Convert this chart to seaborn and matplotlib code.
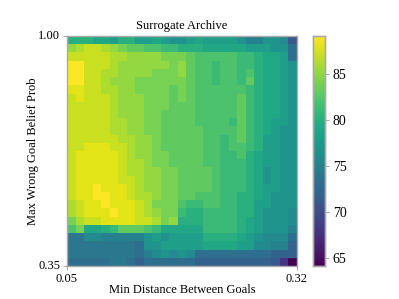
import matplotlib
matplotlib.use("Agg")
import seaborn as sns
import matplotlib.pyplot as plt

# archive values, top row first
rows = [
    [80, 80, 80, 79, 79, 78, 80, 80, 78, 78, 79, 78, 77, 77, 78, 79, 78, 78, 78, 78, 77, 75, 75, 77, 77, 76, 71],
    [85, 86, 87, 87, 86, 85, 84, 83, 83, 82, 82, 81, 81, 80, 80, 80, 79, 79, 79, 79, 79, 78, 78, 78, 77, 77, 73],
    [87, 87, 87, 87, 87, 86, 86, 85, 85, 85, 85, 84, 84, 84, 83, 82, 82, 82, 82, 82, 81, 81, 80, 79, 79, 78, 73],
    [89, 89, 87, 87, 87, 86, 85, 85, 85, 85, 85, 85, 84, 85, 83, 82, 82, 81, 82, 82, 81, 81, 80, 79, 79, 78, 77],
    [89, 89, 87, 87, 86, 86, 85, 85, 85, 85, 84, 84, 84, 85, 83, 82, 82, 81, 82, 82, 81, 82, 80, 79, 79, 78, 77],
    [89, 89, 87, 87, 86, 85, 85, 85, 84, 84, 84, 84, 84, 84, 83, 82, 82, 81, 82, 82, 81, 83, 80, 79, 79, 78, 77],
    [88, 88, 87, 87, 86, 86, 85, 85, 84, 84, 84, 84, 83, 84, 83, 82, 82, 82, 82, 82, 82, 81, 80, 79, 79, 78, 77],
    [87, 88, 87, 87, 87, 86, 85, 85, 85, 84, 84, 84, 83, 84, 83, 82, 82, 82, 82, 82, 83, 81, 80, 79, 79, 78, 77],
    [87, 87, 87, 87, 87, 86, 85, 85, 85, 84, 84, 84, 83, 83, 83, 82, 82, 82, 82, 82, 83, 81, 80, 79, 79, 78, 77],
    [87, 87, 87, 87, 87, 86, 85, 85, 85, 84, 84, 83, 83, 83, 83, 82, 82, 82, 82, 82, 83, 81, 80, 79, 79, 78, 77],
    [87, 87, 87, 87, 87, 86, 86, 85, 85, 84, 84, 83, 83, 83, 83, 82, 82, 82, 82, 81, 83, 81, 80, 79, 78, 78, 77],
    [87, 87, 87, 87, 87, 86, 86, 85, 85, 84, 84, 83, 83, 83, 83, 83, 82, 82, 82, 82, 83, 81, 80, 79, 78, 77, 77],
    [87, 87, 87, 87, 87, 87, 86, 86, 85, 85, 84, 83, 83, 83, 83, 83, 82, 82, 81, 82, 83, 81, 80, 78, 78, 77, 77],
    [87, 87, 88, 88, 88, 87, 87, 86, 85, 85, 84, 83, 83, 83, 83, 83, 82, 82, 81, 82, 82, 81, 80, 78, 78, 77, 77],
    [87, 88, 88, 88, 88, 88, 87, 86, 85, 85, 84, 84, 83, 83, 83, 83, 82, 82, 81, 81, 82, 80, 79, 78, 78, 77, 77],
    [87, 88, 88, 88, 88, 88, 87, 86, 86, 85, 84, 84, 83, 83, 83, 83, 82, 82, 81, 81, 81, 80, 79, 78, 78, 77, 77],
    [87, 88, 88, 88, 88, 88, 87, 86, 86, 85, 85, 84, 84, 83, 83, 83, 83, 82, 81, 81, 81, 80, 79, 77, 78, 77, 77],
    [87, 88, 88, 88, 88, 88, 87, 87, 86, 85, 85, 84, 84, 83, 83, 83, 83, 82, 81, 81, 81, 80, 79, 77, 78, 77, 77],
    [87, 88, 88, 89, 88, 88, 88, 87, 86, 85, 85, 84, 84, 83, 83, 83, 83, 82, 81, 81, 81, 80, 79, 78, 78, 77, 77],
    [87, 88, 88, 89, 89, 88, 88, 87, 86, 86, 85, 84, 84, 83, 83, 82, 82, 82, 81, 81, 80, 80, 79, 78, 77, 77, 77],
    [86, 87, 88, 88, 89, 88, 88, 88, 87, 86, 84, 84, 84, 82, 81, 81, 82, 82, 81, 81, 80, 80, 78, 78, 77, 77, 77],
    [86, 87, 88, 88, 88, 89, 88, 88, 87, 86, 85, 84, 84, 81, 80, 80, 81, 81, 81, 81, 80, 80, 78, 77, 77, 77, 76],
    [84, 86, 87, 87, 88, 88, 88, 88, 87, 87, 86, 84, 85, 80, 80, 80, 81, 81, 81, 81, 80, 79, 78, 77, 77, 77, 76],
    [82, 84, 79, 79, 80, 81, 83, 83, 83, 82, 81, 79, 79, 79, 79, 79, 81, 81, 81, 81, 80, 79, 78, 77, 77, 77, 75],
    [74, 74, 76, 76, 75, 75, 75, 75, 75, 77, 78, 77, 78, 78, 78, 78, 80, 80, 80, 80, 79, 78, 77, 76, 76, 76, 73],
    [74, 74, 74, 74, 74, 74, 74, 74, 73, 77, 77, 78, 78, 78, 78, 78, 79, 79, 79, 79, 78, 78, 76, 76, 75, 75, 72],
    [74, 74, 74, 74, 74, 74, 74, 74, 73, 75, 76, 77, 76, 77, 76, 73, 73, 73, 73, 73, 73, 73, 73, 73, 72, 72, 72],
    [73, 73, 73, 73, 73, 74, 74, 73, 72, 73, 73, 73, 73, 73, 73, 72, 72, 72, 72, 72, 72, 72, 72, 72, 71, 68, 64],
]
x_ticks = ["0.05", "0.32"]
y_ticks = ["1.00", "0.35"]

plt.rcParams["font.family"] = ["Liberation Serif", "DejaVu Serif"]
plt.rcParams["font.size"] = 9

fig = plt.figure(figsize=(3.99, 2.99), dpi=100)
ax = fig.add_axes([67 / 399, 1 - 266 / 299, 230 / 399, 230 / 299])
cax = fig.add_axes([312.5 / 399, 1 - 266 / 299, 12 / 399, 230 / 299])

# 1. The archive heatmap
sns.heatmap(rows, cmap="viridis", vmin=64.1, vmax=89.1, ax=ax, cbar_ax=cax, square=False)

# 2. Only the edges get ticks
ax.set_xticks([0, len(rows[0])])
ax.set_xticklabels(x_ticks, rotation=0)
ax.set_yticks([0, len(rows)])
ax.set_yticklabels(y_ticks, rotation=0)
ax.set_title("Surrogate Archive", fontsize=9, pad=5)
ax.set_xlabel("Min Distance Between Goals", fontsize=9, labelpad=-1)
ax.set_ylabel("Max Wrong Goal Belief Prob", fontsize=9, labelpad=-1)
ax.tick_params(length=3, color="#aaaaaa", labelsize=9, pad=2)

for sp in ax.spines.values():
    sp.set_visible(True)
    sp.set_color("#aaaaaa")
    sp.set_linewidth(1)

# 3. Colorbar
cax.set_yticks([65, 70, 75, 80, 85])
cax.tick_params(length=3, color="#aaaaaa", labelsize=10, pad=3)
for sp in cax.spines.values():
    sp.set_visible(True)
    sp.set_color("#aaaaaa")
    sp.set_linewidth(1)

fig.savefig("out.png", dpi=100)
